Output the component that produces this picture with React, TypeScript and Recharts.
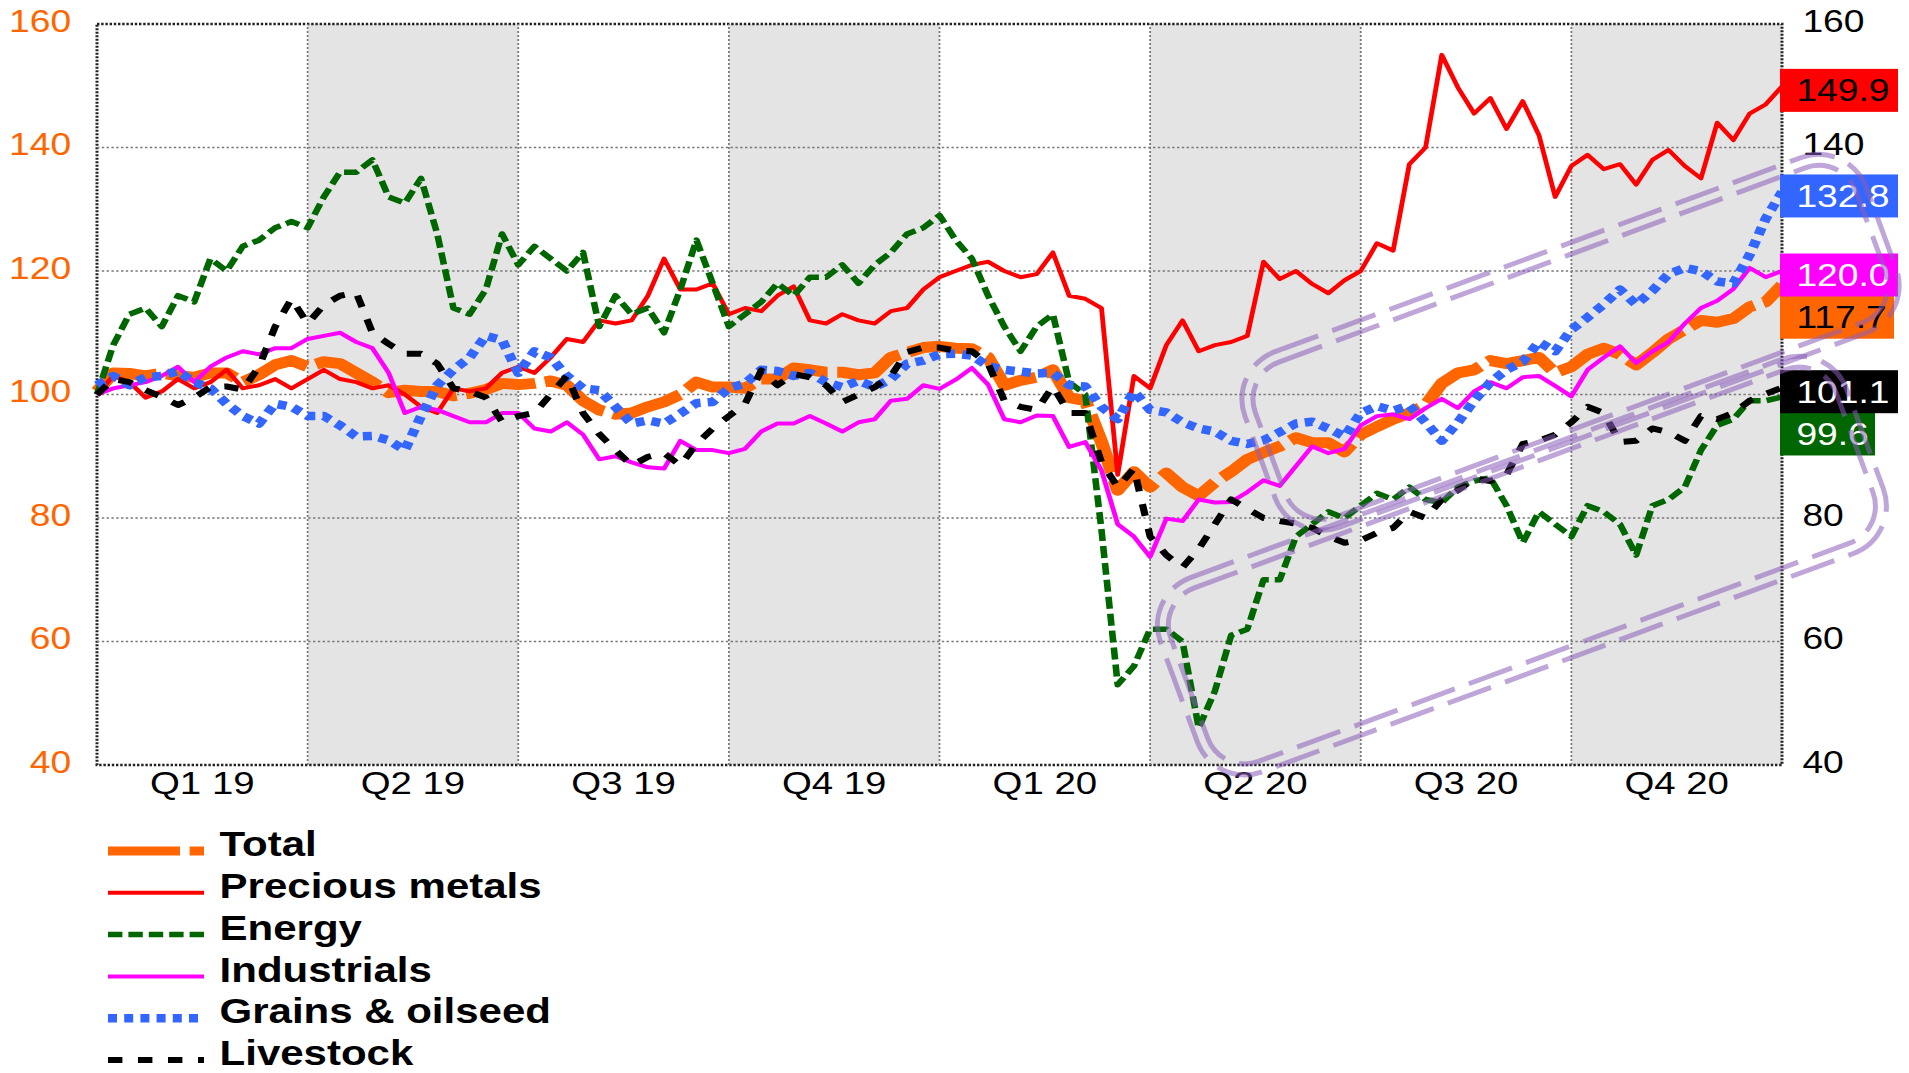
import React from 'react'
import { LineChart, Line, XAxis, YAxis, ReferenceArea, ReferenceLine, LabelList } from 'recharts'

// the reference is drawn ~1.2x wider than tall, so the chart is laid out narrow and stretched
const S = 1.2
const VIEW_W = 1909
const VIEW_H = 1073
const VW = VIEW_W / S
const FONT = '"Liberation Sans", Arial, sans-serif'

// plot box on screen (px)
const PLOT = { left: 97, right: 1782, top: 24, bottom: 765 }
const X_AXIS_H = 40
const RIGHT_AXIS_W = 80

const QUARTERS = ['Q1 19', 'Q2 19', 'Q3 19', 'Q4 19', 'Q1 20', 'Q2 20', 'Q3 20', 'Q4 20']
const WEEKS_PER_Q = 13
const LAST = QUARTERS.length * WEEKS_PER_Q
const Y_TICKS = [40, 60, 80, 100, 120, 140, 160]
// 100 and 120 sit under the end-value tags on the right side
const Y_TICKS_RIGHT = [40, 60, 80, 140, 160]

// weekly index levels, start of 2019 = 100
const total = [
  100.5, 103.5, 103.4, 103, 103.5, 103, 102.8, 103.5, 103.5, 102, 103.2, 104.8, 105.5,
  104.5, 105.3, 105, 103.5, 102, 100.3, 100.7, 100.5, 100.5, 99.8, 100.2, 100.8, 101.8,
  101.6, 101.8, 102.2, 101.5, 99, 97.5, 96.8, 97, 98, 98.8, 100, 102, 101.2,
  101.2, 101, 102.5, 102.5, 104.3, 104, 103.6, 103.6, 103.2, 103.5, 106, 106.8, 107.6,
  107.8, 107.5, 107.4, 106, 101.5, 102.3, 102.8, 104, 99.5, 99, 92.3, 84.5, 87.5,
  85, 87.3, 85, 83.6, 85.8, 87.5, 89.5, 90.6, 91.6, 93, 92.2, 92.2, 90.7,
  93.5, 94.8, 96, 97, 98.3, 101.8, 103.5, 104, 105.5, 105, 105.5, 106, 103.5,
  104.5, 106.5, 107.5, 106.5, 104.8, 106.8, 109, 110.5, 112, 111.7, 112.3, 114.2, 115, 117.7,
]
const precious = [
  100, 103, 102, 99.5, 100.5, 102.5, 101, 102, 104, 101, 101.5, 102.5, 101,
  102.5, 104, 102.5, 102, 101, 101.5, 100, 98, 97, 101, 100.5, 101, 103.5,
  104.5, 103.5, 106, 109, 108.5, 112, 111.5, 112, 116, 122, 117, 117, 118,
  113, 114, 113.5, 116, 117.5, 112, 111.5, 113, 112, 111.5, 113.5, 114, 117,
  119, 120, 121, 121.5, 120, 119, 119.5, 123, 116, 115.5, 114, 87, 103,
  101, 108, 112, 107, 108, 108.5, 109.5, 121.5, 118.7, 120, 117.9, 116.4, 118.5,
  120, 124.5, 123.3, 137.3, 140, 155, 149.7, 145.5, 148, 143, 147.5, 142, 132,
  137, 138.8, 136.5, 137.3, 134, 138, 139.6, 137, 135, 144, 141.2, 145.5, 147, 149.9,
]
const energy = [
  100, 108, 113, 114, 111, 116, 115, 122, 120, 124, 125, 127, 128,
  127, 132, 136, 136, 138, 132, 131, 135, 126, 114, 113, 117, 126,
  121, 124, 122, 120, 123, 111, 116, 113, 114, 110, 117, 125, 118,
  111, 113, 115, 118, 116, 119, 119, 121, 118, 121, 123, 126, 127,
  129, 125, 122, 116, 111, 107, 111, 113, 102, 100, 78, 53, 56,
  62, 62, 60, 46, 52, 61, 62, 70, 70, 77, 79, 81, 80,
  82, 84, 83, 85, 83, 82.5, 85, 86, 86.5, 82, 76, 81, 79,
  77, 82, 81, 79, 74, 82, 83, 85, 91, 95, 96, 99, 99, 99.6,
]
const industrials = [
  100, 101, 101.5, 102, 103, 104.5, 102, 104.5, 106, 107, 106.5, 107.5, 107.5,
  109, 109.5, 110, 108.5, 107.5, 103.5, 97, 98, 97.5, 96.5, 95.5, 95.5, 97,
  97, 94.5, 94, 95.5, 93.5, 89.5, 90, 89, 88.2, 88, 92.5, 91, 91,
  90.5, 91.2, 94, 95.3, 95.3, 96.5, 95.3, 94, 95.5, 96, 99, 99.3, 101.5,
  100.9, 102.4, 104.3, 101.6, 96, 95.5, 96.6, 96.5, 91.5, 92.3, 87.7, 79, 77,
  73.7, 79.9, 79.5, 83, 82.5, 82.6, 84.2, 86.1, 85.2, 88.4, 91.6, 90.5, 91.2,
  95, 96.5, 96.8, 96, 97.8, 99.3, 97.8, 100.5, 102, 101, 102.8, 103, 101.4,
  99.7, 104, 106, 107.8, 105.1, 107, 108.5, 111.5, 114, 115.2, 117.1, 120.5, 119, 120,
]
const grains = [
  101.5, 103, 101.5, 102.8, 103, 103.8, 102, 101, 98.5, 96.5, 95.3, 98.5, 98,
  96.5, 96.5, 95, 93.2, 93.3, 92.6, 91, 96.5, 101.5, 104, 106, 109.5, 108.8,
  103.5, 107, 106, 103, 101, 100.7, 98, 95.3, 95.8, 95.3, 96.9, 98.6, 98.8,
  101, 101.8, 104, 103.8, 103, 103.5, 102, 101.2, 102.2, 101.2, 102.5, 105, 105.5,
  106.5, 106.6, 106.3, 104.6, 104, 103.7, 103.4, 103.5, 101.5, 101.3, 98, 96, 100.5,
  97.5, 97.1, 95.5, 94.5, 94, 92.5, 92, 92.6, 93.9, 95.3, 95.6, 94.5, 93.2,
  97, 98.1, 97.4, 98.2, 95.5, 92.5, 95.5, 99, 102, 104, 105.3, 108.5, 107,
  110.5, 112.5, 114.6, 117, 114.6, 116.8, 119.5, 120.5, 120, 118.3, 118, 122.6, 128.5, 132.8,
]
const livestock = [
  100, 102.5, 102, 100.7, 99.6, 98.3, 99.5, 101.2, 101.3, 100.8, 104.5, 111, 115.5,
  111.5, 114.5, 116, 116.5, 110, 108.2, 106.6, 106.6, 105, 101, 100.5, 99.5, 95.6,
  96.5, 97, 100, 103, 97, 93.6, 91, 88.5, 89.9, 90.5, 88.5, 92, 94.5,
  96.5, 98.5, 103.9, 101.5, 103.3, 102.8, 101.5, 98.8, 100, 101.2, 103, 106.9, 107.6,
  107.6, 107.1, 107, 105, 99, 98, 97.5, 101.3, 97, 97, 89, 85, 88,
  77, 74, 72, 75, 79, 83, 81.5, 80, 79.5, 79.1, 78.4, 77, 76,
  76.4, 77.6, 78.4, 81, 80, 83, 84.5, 86.4, 86, 87, 92, 92.5, 93.5,
  95.5, 98, 97, 92.3, 92.5, 94.5, 93.9, 92.5, 96.5, 96, 97, 99, 100.1, 101.1,
]

const SERIES = [
  { key: 'total', name: 'Total', color: '#FF6600', width: 11, dash: '60 8', tagText: '#000', tagW: 114, tagDy: 32 },
  { key: 'precious', name: 'Precious metals', color: '#FF0000', width: 4, dash: undefined, tagText: '#000', tagW: 118, tagDy: 4 },
  { key: 'energy', name: 'Energy', color: '#006600', width: 5.5, dash: '12 5', tagText: '#fff', tagW: 95, tagDy: 37 },
  { key: 'industrials', name: 'Industrials', color: '#FF00FF', width: 4, dash: undefined, tagText: '#fff', tagW: 118, tagDy: 4 },
  { key: 'grains', name: 'Grains & oilseed', color: '#3366FF', width: 8.5, dash: '7.5 6', tagText: '#fff', tagW: 118, tagDy: 4 },
  { key: 'livestock', name: 'Livestock', color: '#000000', width: 6, dash: '12 13', tagText: '#fff', tagW: 118, tagDy: 4 },
]

// purple highlight pills, ends given as [week index, level] of the pill's end centres
const PILLS = [
  { from: [72.1, 90.2], to: [109.8, 126.7], half: 88 },
  { from: [67.1, 52.1], to: [108.8, 92.5], half: 98 },
]

const px = (i: number) => PLOT.left + (i / LAST) * (PLOT.right - PLOT.left)
const py = (v: number) => PLOT.top + ((160 - v) / 120) * (PLOT.bottom - PLOT.top)

const yTick = (anchor: 'start' | 'end', color: string) => (p: any) => (
  <text x={p.x} y={p.y} dy={8} textAnchor={anchor} fill={color} fontSize={31} fontFamily={FONT}>
    {p.payload.value}
  </text>
)

export default function App() {
  const data = total.map((v, i) => ({
    i, total: v, precious: precious[i], energy: energy[i],
    industrials: industrials[i], grains: grains[i], livestock: livestock[i],
  }))
  const shaded = QUARTERS.map((_, q) => q).filter(q => q % 2 === 1)
  const qTicks = QUARTERS.map((_, q) => q * WEEKS_PER_Q + WEEKS_PER_Q / 2)

  return (
    <div style={{ position: 'fixed', left: 0, top: 0, width: VIEW_W, height: VIEW_H, background: '#fff', overflow: 'hidden' }}>
      <div style={{ position: 'absolute', left: 0, top: 0, width: VW, height: VIEW_H, transform: `scaleX(${S})`, transformOrigin: '0 0' }}>
        <LineChart
          width={VW}
          height={VIEW_H}
          data={data}
          margin={{ top: PLOT.top, left: 0, bottom: VIEW_H - PLOT.bottom - X_AXIS_H, right: VW - PLOT.right / S - RIGHT_AXIS_W }}
        >
          <XAxis
            dataKey="i" type="number" domain={[0, LAST]} ticks={qTicks} interval={0}
            tickFormatter={(v) => QUARTERS[Math.round((v - WEEKS_PER_Q / 2) / WEEKS_PER_Q)]}
            axisLine={false} tickLine={false} tickSize={0} tickMargin={6} height={X_AXIS_H}
            tick={{ fill: '#000', fontSize: 32, fontFamily: FONT }}
          />
          <YAxis
            yAxisId="left" domain={[40, 160]} ticks={Y_TICKS} width={PLOT.left / S}
            axisLine={false} tickLine={false} tickSize={0} tickMargin={21.6}
            tick={yTick('end', '#FF6600')}
          />
          <YAxis
            yAxisId="right" orientation="right" domain={[40, 160]} ticks={Y_TICKS_RIGHT} width={RIGHT_AXIS_W}
            axisLine={false} tickLine={false} tickSize={0} tickMargin={17}
            tick={yTick('start', '#000')}
          />
          {shaded.map(q => (
            <ReferenceArea
              key={q} yAxisId="left" x1={q * WEEKS_PER_Q} x2={(q + 1) * WEEKS_PER_Q} y1={40} y2={160}
              fill="#E4E4E4" fillOpacity={1} stroke="none"
            />
          ))}
          {Y_TICKS.slice(1, -1).map(t => (
            <ReferenceLine key={'h' + t} yAxisId="left" y={t} stroke="#7a7a7a" strokeWidth={1.5} strokeDasharray="2 2" />
          ))}
          {QUARTERS.slice(1).map((_, q) => (
            <ReferenceLine key={'v' + q} yAxisId="left" x={(q + 1) * WEEKS_PER_Q} stroke="#7a7a7a" strokeWidth={1.5} strokeDasharray="2 2" />
          ))}
          <ReferenceArea yAxisId="left" x1={0} x2={LAST} y1={40} y2={160} fill="none" stroke="#222" strokeWidth={2.5} strokeDasharray="2 1.5" />
          {SERIES.map(s => (
            <Line
              key={s.key} yAxisId={s.key === 'livestock' ? 'right' : 'left'} dataKey={s.key} type="linear"
              stroke={s.color} strokeWidth={s.width} strokeDasharray={s.dash} dot={false}
              isAnimationActive={false} strokeLinejoin="round"
            >
              <LabelList
                dataKey={s.key}
                content={(p: any) => {
                  if (p.index !== LAST) return null
                  const h = 43
                  const top = p.y + s.tagDy - h / 2
                  return (
                    <g>
                      <rect x={p.x - 2 / S} y={top} width={s.tagW / S} height={h} fill={s.color} />
                      <text x={p.x + 12} y={top + h / 2 + 11} fontSize={31} fontFamily={FONT} fill={s.tagText}>
                        {Number(p.value).toFixed(1)}
                      </text>
                    </g>
                  )
                }}
              />
            </Line>
          ))}
        </LineChart>

        {/* legend */}
        <svg width={VW} height={VIEW_H} style={{ position: 'absolute', left: 0, top: 0, pointerEvents: 'none' }}>
          {SERIES.map((s, k) => {
            const y = 851 + 41.8 * k
            return (
              <g key={s.key}>
                <line x1={90} x2={170} y1={y} y2={y} stroke={s.color} strokeWidth={Math.min(s.width, 9)} strokeDasharray={s.dash} />
                <text x={183} y={y + 5.2} fontSize={35} fontWeight={700} fontFamily={FONT} fill="#000">{s.name}</text>
              </g>
            )
          })}
        </svg>
      </div>

      {/* highlight pills */}
      <svg width={VIEW_W} height={VIEW_H} style={{ position: 'absolute', left: 0, top: 0, pointerEvents: 'none' }}>
        {PILLS.map((p, k) => {
          const x0 = px(p.from[0]), y0 = py(p.from[1]), x1 = px(p.to[0]), y1 = py(p.to[1])
          const len = Math.hypot(x1 - x0, y1 - y0)
          const ang = (Math.atan2(y1 - y0, x1 - x0) * 180) / Math.PI
          return (
            <g key={k} transform={`translate(${(x0 + x1) / 2},${(y0 + y1) / 2}) rotate(${ang})`}>
              {[-5.5, 5.5].map(d => (
                <rect
                  key={d} x={-len / 2 - d} y={-p.half - d} width={len + 2 * d} height={2 * (p.half + d)}
                  rx={45 + d} fill="none" stroke="#8A5CB8" strokeOpacity={0.55} strokeWidth={5} strokeDasharray="46 15"
                />
              ))}
            </g>
          )
        })}
      </svg>
    </div>
  )
}
